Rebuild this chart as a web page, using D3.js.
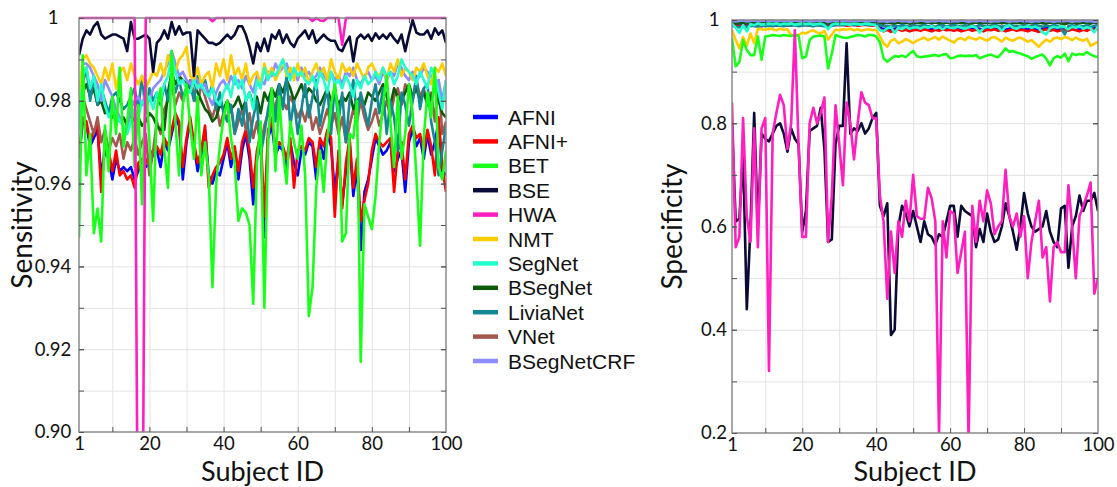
<!DOCTYPE html>
<html>
<head>
<meta charset="utf-8">
<script src="https://cdn.jsdelivr.net/npm/d3@7"></script>
<style>
  body { margin: 0; background: #fff; }
  svg { display: block; font-family: Lato, "Open Sans", sans-serif; }
  .grid line { stroke: #e3e3e3; stroke-width: 1; }
  .grid .domain { display: none; }
  .ticks line { stroke: #555; stroke-width: 1; }
  .ticks .domain { display: none; }
  .legend text { font-family: "Liberation Sans", Arial, sans-serif; font-size: 21px; }
</style>
</head>
<body>
<svg id="chart" width="1117" height="487"></svg>
<script>
const METHODS = ["AFNI", "AFNI+", "BET", "BSE", "HWA", "NMT", "SegNet", "BSegNet", "LiviaNet", "VNet", "BSegNetCRF"];
const COLORS = ["#0000ff", "#ff0000", "#1aff1a", "#0a0a36", "#ff1ec0", "#ffcc00", "#22ffcc", "#0a5a0a", "#168894", "#a3584e", "#8c8cff"];
// draw order, bottom first
const DRAW_ORDER = ["AFNI", "AFNI+", "VNet", "BSegNet", "LiviaNet", "BSegNetCRF", "NMT", "SegNet", "BET", "BSE", "HWA"];

const SUBJECT_IDS = d3.range(1, 101);
const X_TICKS = [1, 20, 40, 60, 80, 100];
const X_GRID = [10, 20, 30, 40, 50, 60, 70, 80, 90];

const SENS_TICKS = [0.90, 0.92, 0.94, 0.96, 0.98, 1];
const SENS_TICK_LABELS = ["0.90", "0.92", "0.94", "0.96", "0.98", "1"];
const SENS_GRID = [0.91, 0.92, 0.93, 0.94, 0.95, 0.96, 0.97, 0.98, 0.99];
const SPEC_TICKS = [0.2, 0.4, 0.6, 0.8, 1];
const SPEC_TICK_LABELS = ["0.2", "0.4", "0.6", "0.8", "1"];
const SPEC_GRID = [0.3, 0.4, 0.5, 0.6, 0.7, 0.8, 0.9];

// ---- Sensitivity ----
const AFNI_SENS = [
  0.966, 0.975, 0.974, 0.969, 0.971, 0.973, 0.962, 0.968, 0.966, 0.961,
  0.966, 0.963, 0.964, 0.963, 0.964, 0.961, 0.963, 0.965, 0.964, 0.965,
  0.967, 0.968, 0.964, 0.970, 0.968, 0.972, 0.976, 0.974, 0.961, 0.970,
  0.975, 0.969, 0.963, 0.967, 0.973, 0.962, 0.960, 0.963, 0.962, 0.966,
  0.970, 0.964, 0.968, 0.961, 0.968, 0.972, 0.966, 0.955, 0.966, 0.970,
  0.947, 0.971, 0.974, 0.967, 0.969, 0.968, 0.964, 0.970, 0.965, 0.962,
  0.968, 0.967, 0.970, 0.969, 0.961, 0.970, 0.966, 0.972, 0.969, 0.958,
  0.966, 0.955, 0.963, 0.970, 0.957, 0.964, 0.944, 0.958, 0.961, 0.966,
  0.971, 0.969, 0.967, 0.968, 0.970, 0.963, 0.966, 0.968, 0.958, 0.970,
  0.973, 0.969, 0.971, 0.966, 0.972, 0.967, 0.970, 0.975, 0.963, 0.962,
];
const AFNIPLUS_SENS = [
  0.967, 0.976, 0.975, 0.970, 0.973, 0.974, 0.958, 0.970, 0.968, 0.963,
  0.968, 0.962, 0.963, 0.961, 0.962, 0.959, 0.965, 0.966, 0.965, 0.967,
  0.968, 0.969, 0.967, 0.971, 0.969, 0.973, 0.977, 0.975, 0.964, 0.971,
  0.976, 0.970, 0.965, 0.968, 0.974, 0.959, 0.962, 0.964, 0.965, 0.967,
  0.971, 0.966, 0.969, 0.963, 0.970, 0.973, 0.968, 0.959, 0.968, 0.972,
  0.952, 0.973, 0.975, 0.969, 0.970, 0.969, 0.966, 0.971, 0.959, 0.968,
  0.969, 0.968, 0.971, 0.970, 0.964, 0.971, 0.969, 0.973, 0.971, 0.952,
  0.968, 0.954, 0.965, 0.971, 0.959, 0.966, 0.951, 0.956, 0.960, 0.968,
  0.972, 0.970, 0.969, 0.970, 0.971, 0.958, 0.968, 0.970, 0.961, 0.972,
  0.974, 0.971, 0.972, 0.968, 0.973, 0.969, 0.962, 0.976, 0.964, 0.958,
];
const BET_SENS = [
  0.947, 0.991, 0.962, 0.972, 0.948, 0.954, 0.946, 0.974, 0.963, 0.981,
  0.972, 0.988, 0.969, 0.975, 0.983, 0.964, 0.979, 0.955, 0.985, 0.970,
  0.951, 0.978, 0.983, 0.968, 0.959, 0.992, 0.975, 0.962, 0.979, 0.984,
  0.974, 0.966, 0.981, 0.962, 0.970, 0.962, 0.935, 0.960, 0.969, 0.976,
  0.980, 0.971, 0.965, 0.951, 0.954, 0.953, 0.950, 0.931, 0.965, 0.975,
  0.930, 0.970, 0.983, 0.963, 0.981, 0.968, 0.960, 0.975, 0.970, 0.966,
  0.974, 0.962, 0.928, 0.935, 0.959, 0.968, 0.958, 0.971, 0.979, 0.984,
  0.977, 0.946, 0.948, 0.972, 0.971, 0.980, 0.917, 0.955, 0.952, 0.949,
  0.957, 0.970, 0.979, 0.986, 0.975, 0.964, 0.981, 0.966, 0.972, 0.984,
  0.977, 0.962, 0.945, 0.971, 0.982, 0.976, 0.988, 0.964, 0.961, 0.968,
];
const BSE_SENS = [
  0.991, 0.995, 0.997, 0.996, 0.998, 0.999, 0.996, 0.995, 0.9955, 0.996,
  0.996, 0.9955, 0.995, 0.992, 0.999, 0.995, 0.995, 0.9955, 0.996, 0.995,
  0.987, 0.994, 0.995, 0.997, 0.995, 0.999, 0.996, 0.998, 0.996, 0.9965,
  0.9965, 0.986, 0.997, 0.996, 0.995, 0.994, 0.994, 0.9935, 0.994, 0.995,
  0.996, 0.995, 0.996, 0.998, 0.998, 0.996, 0.993, 0.989, 0.994, 0.992,
  0.995, 0.992, 0.996, 0.995, 0.997, 0.994, 0.996, 0.994, 0.993, 0.995,
  0.996, 0.997, 0.995, 0.997, 0.994, 0.995, 0.996, 0.995, 0.9945, 0.9945,
  0.9925, 0.992, 0.994, 0.9955, 0.9895, 0.995, 0.996, 0.995, 0.996, 0.9945,
  0.9963, 0.995, 0.996, 0.995, 0.9963, 0.995, 0.994, 0.996, 0.992, 0.996,
  0.9995, 0.9965, 0.996, 0.996, 0.997, 0.995, 0.9975, 0.996, 0.997, 0.994,
];
const HWA_SENS = [
  1, 1, 1, 1, 1, 1, 1, 1, 1, 1,
  1, 1, 1, 1, 1, 1, 0.85, 0.85, 1, 1,
  1, 1, 1, 1, 1, 1, 1, 1, 1, 1,
  1, 1, 1, 1, 1, 1, 0.9992, 1, 1, 1,
  1, 1, 1, 1, 1, 1, 1, 1, 1, 1,
  1, 1, 1, 1, 1, 1, 1, 1, 1, 1,
  1, 1, 1, 0.9993, 1, 0.9994, 0.9993, 1, 1, 1,
  1, 0.9935, 1, 1, 1, 1, 1, 1, 1, 1,
  1, 1, 1, 1, 1, 1, 1, 1, 1, 1,
  1, 1, 1, 1, 1, 1, 1, 1, 1, 1,
];
const NMT_SENS = [
  0.980, 0.990, 0.991, 0.989, 0.988, 0.986, 0.984, 0.988, 0.985, 0.989,
  0.983, 0.987, 0.988, 0.985, 0.989, 0.986, 0.984, 0.986, 0.983, 0.985,
  0.987, 0.986, 0.989, 0.986, 0.991, 0.988, 0.987, 0.990, 0.991, 0.993,
  0.986, 0.985, 0.988, 0.984, 0.986, 0.987, 0.983, 0.989, 0.986, 0.990,
  0.985, 0.991, 0.986, 0.988, 0.985, 0.989, 0.984, 0.986, 0.987, 0.984,
  0.989, 0.986, 0.988, 0.985, 0.987, 0.990, 0.986, 0.988, 0.985, 0.989,
  0.986, 0.988, 0.984, 0.987, 0.989, 0.986, 0.988, 0.985, 0.990, 0.987,
  0.985, 0.989, 0.987, 0.988, 0.986, 0.989, 0.987, 0.985, 0.988, 0.989,
  0.987, 0.986, 0.988, 0.985, 0.989, 0.987, 0.990, 0.986, 0.988, 0.987,
  0.985, 0.988, 0.987, 0.989, 0.986, 0.984, 0.988, 0.987, 0.989, 0.986,
];
const SEGNET_SENS = [
  0.973, 0.986, 0.988, 0.983, 0.986, 0.980, 0.984, 0.979, 0.976, 0.978,
  0.977, 0.975, 0.974, 0.972, 0.975, 0.978, 0.976, 0.980, 0.979, 0.981,
  0.978, 0.982, 0.980, 0.984, 0.986, 0.991, 0.987, 0.984, 0.985, 0.983,
  0.982, 0.985, 0.983, 0.984, 0.982, 0.981, 0.983, 0.980, 0.979, 0.982,
  0.984, 0.981, 0.986, 0.983, 0.985, 0.980, 0.982, 0.978, 0.985, 0.983,
  0.988, 0.985, 0.987, 0.986, 0.988, 0.990, 0.987, 0.985, 0.988, 0.986,
  0.987, 0.985, 0.984, 0.986, 0.983, 0.987, 0.985, 0.982, 0.987, 0.984,
  0.985, 0.983, 0.986, 0.984, 0.981, 0.985, 0.983, 0.986, 0.984, 0.985,
  0.987, 0.985, 0.988, 0.986, 0.987, 0.984, 0.986, 0.990, 0.988, 0.987,
  0.986, 0.984, 0.987, 0.985, 0.983, 0.988, 0.986, 0.982, 0.978, 0.985,
];
const BSEGNET_SENS = [
  0.976, 0.982, 0.984, 0.981, 0.983, 0.979, 0.980, 0.977, 0.978, 0.976,
  0.977, 0.975, 0.976, 0.974, 0.977, 0.975, 0.976, 0.974, 0.975, 0.977,
  0.976, 0.974, 0.973, 0.973, 0.982, 0.987, 0.984, 0.986, 0.985, 0.984,
  0.983, 0.985, 0.982, 0.980, 0.978, 0.977, 0.975, 0.976, 0.979, 0.978,
  0.980, 0.978, 0.979, 0.981, 0.978, 0.980, 0.982, 0.979, 0.981, 0.977,
  0.982, 0.980, 0.983, 0.981, 0.984, 0.982, 0.985, 0.983, 0.980, 0.982,
  0.984, 0.981, 0.983, 0.982, 0.980, 0.979, 0.981, 0.983, 0.980, 0.982,
  0.979, 0.981, 0.980, 0.982, 0.978, 0.980, 0.981, 0.979, 0.982, 0.981,
  0.980, 0.982, 0.984, 0.981, 0.979, 0.983, 0.981, 0.980, 0.982, 0.984,
  0.981, 0.983, 0.980, 0.982, 0.979, 0.981, 0.983, 0.980, 0.977, 0.976,
];
const LIVIANET_SENS = [
  0.975, 0.984, 0.988, 0.980, 0.986, 0.979, 0.983, 0.980, 0.977, 0.981,
  0.982, 0.980, 0.978, 0.979, 0.981, 0.983, 0.978, 0.986, 0.977, 0.983,
  0.980, 0.982, 0.979, 0.984, 0.980, 0.986, 0.982, 0.985, 0.981, 0.983,
  0.984, 0.980, 0.986, 0.983, 0.985, 0.981, 0.984, 0.978, 0.982, 0.977,
  0.975, 0.979, 0.972, 0.978, 0.974, 0.980, 0.970, 0.976, 0.980, 0.967,
  0.972, 0.978, 0.982, 0.975, 0.984, 0.978, 0.986, 0.974, 0.980, 0.972,
  0.978, 0.984, 0.976, 0.981, 0.985, 0.974, 0.979, 0.983, 0.972, 0.984,
  0.975, 0.982, 0.970, 0.980, 0.985, 0.976, 0.982, 0.978, 0.974, 0.980,
  0.984, 0.977, 0.983, 0.972, 0.980, 0.976, 0.968, 0.982, 0.979, 0.974,
  0.980, 0.986, 0.978, 0.983, 0.984, 0.975, 0.970, 0.962, 0.968, 0.974,
];
const VNET_SENS = [
  0.974, 0.981, 0.978, 0.975, 0.972, 0.976, 0.970, 0.973, 0.968, 0.971,
  0.969, 0.972, 0.966, 0.970, 0.968, 0.971, 0.967, 0.970, 0.972, 0.962,
  0.968, 0.975, 0.972, 0.978, 0.980, 0.984, 0.979, 0.982, 0.980, 0.983,
  0.985, 0.982, 0.979, 0.984, 0.981, 0.978, 0.976, 0.979, 0.974, 0.977,
  0.976, 0.979, 0.972, 0.975, 0.978, 0.973, 0.977, 0.971, 0.975, 0.969,
  0.974, 0.977, 0.975, 0.979, 0.982, 0.980, 0.978, 0.981, 0.979, 0.976,
  0.978, 0.975, 0.979, 0.973, 0.976, 0.972, 0.975, 0.978, 0.974, 0.977,
  0.972, 0.976, 0.970, 0.974, 0.978, 0.975, 0.980, 0.976, 0.973, 0.975,
  0.978, 0.974, 0.977, 0.980, 0.976, 0.981, 0.983, 0.979, 0.984, 0.982,
  0.980, 0.985, 0.981, 0.983, 0.979, 0.982, 0.975, 0.985, 0.972, 0.975,
];
const BSEGNETCRF_SENS = [
  0.979, 0.989, 0.989, 0.988, 0.986, 0.984, 0.980, 0.985, 0.983, 0.981,
  0.978, 0.976, 0.974, 0.973, 0.978, 0.980, 0.981, 0.979, 0.982, 0.980,
  0.983, 0.984, 0.985, 0.987, 0.989, 0.992, 0.989, 0.986, 0.987, 0.985,
  0.984, 0.986, 0.985, 0.983, 0.984, 0.981, 0.979, 0.982, 0.984, 0.985,
  0.983, 0.986, 0.984, 0.985, 0.983, 0.986, 0.984, 0.982, 0.986, 0.985,
  0.984, 0.987, 0.986, 0.989, 0.987, 0.988, 0.989, 0.986, 0.987, 0.985,
  0.988, 0.986, 0.987, 0.985, 0.986, 0.988, 0.986, 0.985, 0.987, 0.985,
  0.986, 0.984, 0.987, 0.986, 0.988, 0.985, 0.984, 0.986, 0.987, 0.985,
  0.986, 0.984, 0.987, 0.985, 0.987, 0.986, 0.989, 0.988, 0.986, 0.985,
  0.987, 0.985, 0.986, 0.988, 0.987, 0.986, 0.984, 0.985, 0.980, 0.985,
];

// ---- Specificity ----
const AFNI_SPEC = [
  0.992, 0.990, 0.988, 0.991, 0.989, 0.992, 0.990, 0.991, 0.989, 0.992,
  0.991, 0.992, 0.990, 0.991, 0.992, 0.990, 0.991, 0.992, 0.990, 0.991,
  0.992, 0.990, 0.991, 0.992, 0.991, 0.990, 0.989, 0.991, 0.992, 0.991,
  0.992, 0.990, 0.991, 0.992, 0.990, 0.991, 0.992, 0.991, 0.990, 0.992,
  0.985, 0.982, 0.984, 0.980, 0.983, 0.985, 0.982, 0.984, 0.981, 0.983,
  0.984, 0.982, 0.985, 0.983, 0.981, 0.984, 0.982, 0.985, 0.983, 0.984,
  0.982, 0.984, 0.981, 0.983, 0.985, 0.982, 0.984, 0.983, 0.981, 0.984,
  0.983, 0.985, 0.982, 0.984, 0.981, 0.983, 0.985, 0.982, 0.984, 0.983,
  0.981, 0.984, 0.982, 0.980, 0.983, 0.985, 0.982, 0.984, 0.981, 0.983,
  0.984, 0.982, 0.985, 0.983, 0.981, 0.984, 0.982, 0.986, 0.984, 0.985,
];
const AFNIPLUS_SPEC = [
  0.991, 0.989, 0.987, 0.990, 0.988, 0.991, 0.989, 0.990, 0.988, 0.991,
  0.990, 0.991, 0.989, 0.990, 0.991, 0.989, 0.990, 0.991, 0.989, 0.990,
  0.991, 0.989, 0.990, 0.991, 0.990, 0.989, 0.988, 0.990, 0.991, 0.990,
  0.991, 0.989, 0.990, 0.991, 0.989, 0.990, 0.991, 0.990, 0.989, 0.991,
  0.982, 0.978, 0.981, 0.977, 0.980, 0.982, 0.979, 0.981, 0.978, 0.980,
  0.981, 0.979, 0.982, 0.980, 0.978, 0.981, 0.979, 0.982, 0.980, 0.981,
  0.979, 0.981, 0.978, 0.980, 0.982, 0.979, 0.981, 0.980, 0.978, 0.981,
  0.980, 0.982, 0.979, 0.981, 0.978, 0.980, 0.982, 0.979, 0.981, 0.980,
  0.978, 0.981, 0.979, 0.977, 0.980, 0.982, 0.979, 0.981, 0.978, 0.980,
  0.981, 0.979, 0.982, 0.980, 0.978, 0.981, 0.979, 0.983, 0.981, 0.982,
];
const BET_SPEC = [
  0.965, 0.910, 0.919, 0.961, 0.942, 0.932, 0.932, 0.968, 0.923, 0.968,
  0.969, 0.971, 0.970, 0.969, 0.971, 0.970, 0.969, 0.971, 0.970, 0.926,
  0.929, 0.961, 0.968, 0.969, 0.970, 0.968, 0.906, 0.935, 0.971, 0.968,
  0.966, 0.965, 0.967, 0.969, 0.971, 0.970, 0.968, 0.971, 0.971, 0.968,
  0.957, 0.926, 0.919, 0.925, 0.930, 0.929, 0.931, 0.928, 0.935, 0.940,
  0.930, 0.928, 0.929, 0.930, 0.931, 0.932, 0.930, 0.933, 0.934, 0.926,
  0.927, 0.930, 0.931, 0.930, 0.931, 0.930, 0.932, 0.926, 0.929, 0.931,
  0.933, 0.930, 0.928, 0.936, 0.945, 0.938, 0.940, 0.937, 0.935, 0.932,
  0.930, 0.925, 0.928, 0.931, 0.933, 0.925, 0.912, 0.926, 0.930, 0.927,
  0.935, 0.920, 0.935, 0.932, 0.934, 0.933, 0.938, 0.933, 0.930, 0.928,
];
const BSE_SPEC = [
  0.800, 0.610, 0.615, 0.740, 0.440, 0.600, 0.820, 0.600, 0.780, 0.770,
  0.765, 0.780, 0.795, 0.800, 0.780, 0.745, 0.790, 0.770, 0.760, 0.590,
  0.630, 0.785, 0.790, 0.795, 0.830, 0.750, 0.570, 0.575, 0.760, 0.795,
  0.795, 0.955, 0.780, 0.790, 0.785, 0.800, 0.780, 0.790, 0.810, 0.820,
  0.640, 0.620, 0.645, 0.390, 0.400, 0.600, 0.640, 0.625, 0.600, 0.630,
  0.600, 0.570, 0.610, 0.585, 0.580, 0.565, 0.585, 0.580, 0.610, 0.640,
  0.640, 0.580, 0.640, 0.630, 0.625, 0.620, 0.560, 0.595, 0.570, 0.625,
  0.590, 0.570, 0.575, 0.600, 0.645, 0.620, 0.590, 0.555, 0.600, 0.665,
  0.625, 0.600, 0.590, 0.595, 0.600, 0.630, 0.590, 0.570, 0.560, 0.635,
  0.640, 0.520, 0.600, 0.620, 0.660, 0.630, 0.650, 0.650, 0.665, 0.630,
];
const HWA_SPEC = [
  0.840, 0.560, 0.580, 0.810, 0.620, 0.570, 0.790, 0.560, 0.790, 0.810,
  0.320, 0.780, 0.820, 0.855, 0.835, 0.750, 0.800, 0.980, 0.760, 0.580,
  0.580, 0.800, 0.830, 0.800, 0.820, 0.850, 0.570, 0.660, 0.835, 0.760,
  0.680, 0.840, 0.800, 0.730, 0.800, 0.860, 0.840, 0.835, 0.810, 0.810,
  0.660, 0.610, 0.460, 0.590, 0.510, 0.610, 0.580, 0.650, 0.610, 0.700,
  0.620, 0.615, 0.615, 0.675, 0.655, 0.610, 0.195, 0.610, 0.540, 0.630,
  0.625, 0.510, 0.550, 0.590, 0.185, 0.640, 0.570, 0.650, 0.610, 0.670,
  0.645, 0.585, 0.600, 0.610, 0.710, 0.620, 0.600, 0.625, 0.580, 0.620,
  0.500, 0.570, 0.610, 0.650, 0.540, 0.560, 0.455, 0.560, 0.570, 0.550,
  0.550, 0.680, 0.600, 0.500, 0.620, 0.640, 0.660, 0.685, 0.470, 0.500,
];
const NMT_SPEC = [
  0.981, 0.961, 0.945, 0.967, 0.950, 0.974, 0.955, 0.983, 0.982, 0.981,
  0.983, 0.982, 0.980, 0.983, 0.981, 0.982, 0.970, 0.969, 0.971, 0.975,
  0.974, 0.978, 0.980, 0.976, 0.974, 0.979, 0.962, 0.972, 0.981, 0.980,
  0.982, 0.981, 0.983, 0.980, 0.982, 0.979, 0.981, 0.982, 0.980, 0.981,
  0.968, 0.955, 0.948, 0.960, 0.963, 0.955, 0.958, 0.963, 0.960, 0.955,
  0.960, 0.963, 0.966, 0.961, 0.964, 0.967, 0.962, 0.968, 0.964, 0.960,
  0.956, 0.963, 0.965, 0.961, 0.967, 0.964, 0.962, 0.966, 0.963, 0.960,
  0.965, 0.967, 0.963, 0.958, 0.966, 0.962, 0.960, 0.964, 0.966, 0.962,
  0.958, 0.961, 0.955, 0.948, 0.956, 0.962, 0.958, 0.964, 0.966, 0.963,
  0.967, 0.965, 0.961, 0.966, 0.962, 0.960, 0.964, 0.950, 0.954, 0.958,
];
const SEGNET_SPEC = [
  0.993, 0.985, 0.975, 0.990, 0.978, 0.992, 0.990, 0.993, 0.991, 0.992,
  0.993, 0.992, 0.993, 0.991, 0.993, 0.992, 0.993, 0.991, 0.992, 0.993,
  0.992, 0.993, 0.991, 0.992, 0.993, 0.990, 0.982, 0.991, 0.993, 0.992,
  0.993, 0.992, 0.991, 0.993, 0.992, 0.991, 0.993, 0.992, 0.991, 0.990,
  0.980, 0.978, 0.984, 0.986, 0.975, 0.985, 0.982, 0.987, 0.983, 0.985,
  0.986, 0.983, 0.987, 0.985, 0.988, 0.984, 0.986, 0.982, 0.987, 0.985,
  0.984, 0.987, 0.985, 0.983, 0.986, 0.988, 0.985, 0.976, 0.984, 0.987,
  0.985, 0.988, 0.986, 0.979, 0.987, 0.990, 0.985, 0.983, 0.987, 0.986,
  0.988, 0.985, 0.987, 0.984, 0.976, 0.972, 0.984, 0.987, 0.985, 0.988,
  0.986, 0.982, 0.987, 0.985, 0.988, 0.983, 0.986, 0.984, 0.976, 0.988,
];
const BSEGNET_SPEC = [
  0.995, 0.994, 0.993, 0.995, 0.994, 0.996, 0.995, 0.994, 0.996, 0.995,
  0.996, 0.995, 0.996, 0.995, 0.996, 0.995, 0.996, 0.995, 0.994, 0.995,
  0.996, 0.995, 0.996, 0.995, 0.996, 0.995, 0.993, 0.995, 0.996, 0.995,
  0.996, 0.997, 0.996, 0.995, 0.996, 0.997, 0.996, 0.995, 0.996, 0.997,
  0.994, 0.993, 0.995, 0.994, 0.993, 0.995, 0.994, 0.995, 0.993, 0.994,
  0.995, 0.994, 0.993, 0.995, 0.994, 0.995, 0.993, 0.994, 0.995, 0.994,
  0.993, 0.995, 0.994, 0.995, 0.993, 0.994, 0.995, 0.993, 0.994, 0.995,
  0.994, 0.993, 0.995, 0.994, 0.995, 0.993, 0.994, 0.995, 0.994, 0.993,
  0.995, 0.994, 0.993, 0.995, 0.994, 0.993, 0.995, 0.994, 0.995, 0.993,
  0.992, 0.994, 0.995, 0.993, 0.994, 0.995, 0.994, 0.993, 0.995, 0.994,
];
const LIVIANET_SPEC = [
  0.989, 0.987, 0.986, 0.988, 0.987, 0.989, 0.988, 0.987, 0.989, 0.988,
  0.989, 0.988, 0.990, 0.989, 0.988, 0.990, 0.989, 0.990, 0.988, 0.989,
  0.990, 0.989, 0.988, 0.990, 0.989, 0.988, 0.986, 0.989, 0.990, 0.991,
  0.990, 0.992, 0.991, 0.990, 0.991, 0.992, 0.991, 0.990, 0.991, 0.992,
  0.990, 0.988, 0.989, 0.987, 0.989, 0.988, 0.990, 0.989, 0.987, 0.990,
  0.989, 0.988, 0.990, 0.988, 0.989, 0.987, 0.989, 0.990, 0.988, 0.989,
  0.990, 0.989, 0.987, 0.990, 0.988, 0.989, 0.987, 0.990, 0.988, 0.989,
  0.988, 0.990, 0.989, 0.987, 0.989, 0.990, 0.988, 0.989, 0.987, 0.990,
  0.989, 0.988, 0.990, 0.989, 0.987, 0.989, 0.988, 0.990, 0.989, 0.984,
  0.972, 0.988, 0.990, 0.987, 0.989, 0.988, 0.990, 0.986, 0.989, 0.990,
];
const VNET_SPEC = [
  0.997, 0.995, 0.996, 0.998, 0.996, 0.997, 0.995, 0.998, 0.996, 0.997,
  0.998, 0.996, 0.997, 0.998, 0.996, 0.997, 0.998, 0.996, 0.997, 0.998,
  0.997, 0.996, 0.998, 0.997, 0.996, 0.998, 0.995, 0.997, 0.998, 0.996,
  0.997, 0.998, 0.996, 0.997, 0.998, 0.996, 0.997, 0.998, 0.997, 0.996,
  0.996, 0.994, 0.997, 0.995, 0.996, 0.998, 0.995, 0.997, 0.996, 0.994,
  0.997, 0.995, 0.996, 0.998, 0.995, 0.997, 0.996, 0.994, 0.997, 0.995,
  0.996, 0.998, 0.995, 0.997, 0.996, 0.994, 0.997, 0.995, 0.996, 0.998,
  0.995, 0.997, 0.996, 0.994, 0.997, 0.995, 0.996, 0.998, 0.995, 0.997,
  0.996, 0.994, 0.997, 0.995, 0.996, 0.998, 0.995, 0.997, 0.996, 0.994,
  0.997, 0.995, 0.996, 0.998, 0.995, 0.997, 0.996, 0.994, 0.997, 0.996,
];
const BSEGNETCRF_SPEC = [
  0.998, 0.997, 0.998, 0.999, 0.997, 0.998, 0.999, 0.997, 0.998, 0.999,
  0.998, 0.999, 0.997, 0.998, 0.999, 0.998, 0.997, 0.999, 0.998, 0.997,
  0.999, 0.998, 0.997, 0.999, 0.998, 0.999, 0.996, 0.998, 0.999, 0.998,
  0.999, 0.998, 0.997, 0.999, 0.998, 0.999, 0.998, 0.997, 0.999, 0.998,
  0.997, 0.998, 0.996, 0.998, 0.997, 0.999, 0.997, 0.998, 0.996, 0.998,
  0.997, 0.999, 0.998, 0.996, 0.998, 0.997, 0.999, 0.997, 0.998, 0.996,
  0.998, 0.997, 0.999, 0.998, 0.996, 0.998, 0.997, 0.999, 0.997, 0.998,
  0.996, 0.998, 0.997, 0.999, 0.998, 0.996, 0.998, 0.997, 0.999, 0.997,
  0.998, 0.996, 0.998, 0.997, 0.999, 0.997, 0.998, 0.996, 0.998, 0.997,
  0.999, 0.998, 0.996, 0.998, 0.997, 0.999, 0.997, 0.998, 0.996, 0.998,
];

const SENSITIVITY = new Map([
  ["AFNI", AFNI_SENS], ["AFNI+", AFNIPLUS_SENS], ["BET", BET_SENS], ["BSE", BSE_SENS],
  ["HWA", HWA_SENS], ["NMT", NMT_SENS], ["SegNet", SEGNET_SENS], ["BSegNet", BSEGNET_SENS],
  ["LiviaNet", LIVIANET_SENS], ["VNet", VNET_SENS], ["BSegNetCRF", BSEGNETCRF_SENS],
]);
const SPECIFICITY = new Map([
  ["AFNI", AFNI_SPEC], ["AFNI+", AFNIPLUS_SPEC], ["BET", BET_SPEC], ["BSE", BSE_SPEC],
  ["HWA", HWA_SPEC], ["NMT", NMT_SPEC], ["SegNet", SEGNET_SPEC], ["BSegNet", BSEGNET_SPEC],
  ["LiviaNet", LIVIANET_SPEC], ["VNet", VNET_SPEC], ["BSegNetCRF", BSEGNETCRF_SPEC],
]);
const colorOf = d3.scaleOrdinal().domain(METHODS).range(COLORS);

class LinePanel {
  constructor(_config, _data) {
    this.config = _config;
    this.data = _data;
    this.initVis();
  }

  initVis() {
    let vis = this;
    const c = vis.config;
    vis.width = c.right - c.left;
    vis.height = c.bottom - c.top;

    vis.xScale = d3.scaleLinear().domain([1, 100]).range([0, vis.width]);
    vis.yScale = d3.scaleLinear().domain(c.domain).range([vis.height, 0]);

    vis.chart = d3.select("#chart").append("g")
      .attr("transform", `translate(${c.left}, ${c.top})`);

    vis.chart.append("clipPath").attr("id", `clip-${c.id}`)
      .append("rect")
      .attr("x", 0).attr("y", -3)
      .attr("width", vis.width).attr("height", vis.height + 3);

    // grid
    vis.chart.append("g").attr("class", "grid")
      .call(d3.axisLeft(vis.yScale).tickValues(c.grid).tickSize(-vis.width).tickFormat(""));
    vis.chart.append("g").attr("class", "grid")
      .attr("transform", `translate(0, ${vis.height})`)
      .call(d3.axisBottom(vis.xScale).tickValues(X_GRID).tickSize(-vis.height).tickFormat(""));

    vis.renderVis();
  }

  renderVis() {
    let vis = this;
    const c = vis.config;

    const line = d3.line()
      .x((d, i) => vis.xScale(SUBJECT_IDS[i]))
      .y((d) => vis.yScale(d));

    vis.chart.append("g")
      .attr("clip-path", `url(#clip-${c.id})`)
      .selectAll(".series")
      .data(DRAW_ORDER)
      .join("path")
      .attr("class", "series")
      .attr("fill", "none")
      .attr("stroke", (d) => colorOf(d))
      .attr("stroke-width", 2.6)
      .attr("stroke-linejoin", "round")
      .attr("d", (d) => line(vis.data.get(d)));

    // frame
    vis.chart.append("rect")
      .attr("width", vis.width).attr("height", vis.height)
      .attr("fill", "none").attr("stroke", "#8a8a8a").attr("stroke-width", 1.5);

    // small inside ticks on all sides
    const yTicks = c.grid.concat(c.ticks);
    vis.chart.append("g").attr("class", "ticks")
      .call(d3.axisLeft(vis.yScale).tickValues(yTicks).tickSize(-5).tickFormat(""));
    vis.chart.append("g").attr("class", "ticks")
      .attr("transform", `translate(${vis.width}, 0)`)
      .call(d3.axisRight(vis.yScale).tickValues(yTicks).tickSize(-5).tickFormat(""));
    vis.chart.append("g").attr("class", "ticks")
      .attr("transform", `translate(0, ${vis.height})`)
      .call(d3.axisBottom(vis.xScale).tickValues(X_GRID).tickSize(-5).tickFormat(""));
    vis.chart.append("g").attr("class", "ticks")
      .call(d3.axisTop(vis.xScale).tickValues(X_GRID).tickSize(-5).tickFormat(""));

    // tick labels
    vis.chart.append("g")
      .call(d3.axisLeft(vis.yScale).tickValues(c.ticks).tickSize(0)
        .tickFormat((d, i) => c.tickLabels[i]))
      .call((g) => g.select(".domain").remove())
      .selectAll("text")
      .attr("x", -c.labelOffset)
      .attr("text-anchor", "middle")
      .attr("font-size", 18.5)
      .attr("font-family", "Lato, sans-serif")
      .attr("fill", "#111");

    vis.chart.append("g")
      .attr("transform", `translate(0, ${vis.height})`)
      .call(d3.axisBottom(vis.xScale).tickValues(X_TICKS).tickSize(0).tickPadding(5))
      .call((g) => g.select(".domain").remove())
      .selectAll("text")
      .attr("font-size", 18.5)
      .attr("font-family", "Lato, sans-serif")
      .attr("fill", "#111");

    // axis titles
    vis.chart.append("text")
      .attr("transform", `translate(${c.titleX - c.left}, ${vis.height / 2}) rotate(-90)`)
      .attr("text-anchor", "middle")
      .attr("dominant-baseline", "middle")
      .attr("font-size", 28)
      .attr("fill", "#111")
      .text(c.title);

    vis.chart.append("text")
      .attr("x", vis.width / 2)
      .attr("y", 481 - c.top)
      .attr("text-anchor", "middle")
      .attr("font-size", 27)
      .attr("fill", "#111")
      .text("Subject ID");
  }
}

new LinePanel({
  id: "sens", left: 79, right: 446, top: 18, bottom: 432,
  domain: [0.9, 1], ticks: SENS_TICKS, tickLabels: SENS_TICK_LABELS, grid: SENS_GRID,
  labelOffset: 26, title: "Sensitivity", titleX: 25,
}, SENSITIVITY);

new LinePanel({
  id: "spec", left: 732, right: 1098, top: 20, bottom: 433,
  domain: [0.2, 1], ticks: SPEC_TICKS, tickLabels: SPEC_TICK_LABELS, grid: SPEC_GRID,
  labelOffset: 18, title: "Specificity", titleX: 675,
}, SPECIFICITY);

// legend
const legend = d3.select("#chart").append("g")
  .attr("class", "legend")
  .attr("transform", "translate(473, 117)");

const rows = legend.selectAll("g")
  .data(METHODS)
  .join("g")
  .attr("transform", (d, i) => `translate(0, ${i * 24.4})`);

rows.append("line")
  .attr("x1", 0).attr("x2", 25)
  .attr("stroke", (d) => colorOf(d))
  .attr("stroke-width", 4.5);

rows.append("text")
  .attr("x", 35)
  .attr("dy", "0.36em")
  .attr("fill", "#111")
  .text((d) => d);
</script>
</body>
</html>
